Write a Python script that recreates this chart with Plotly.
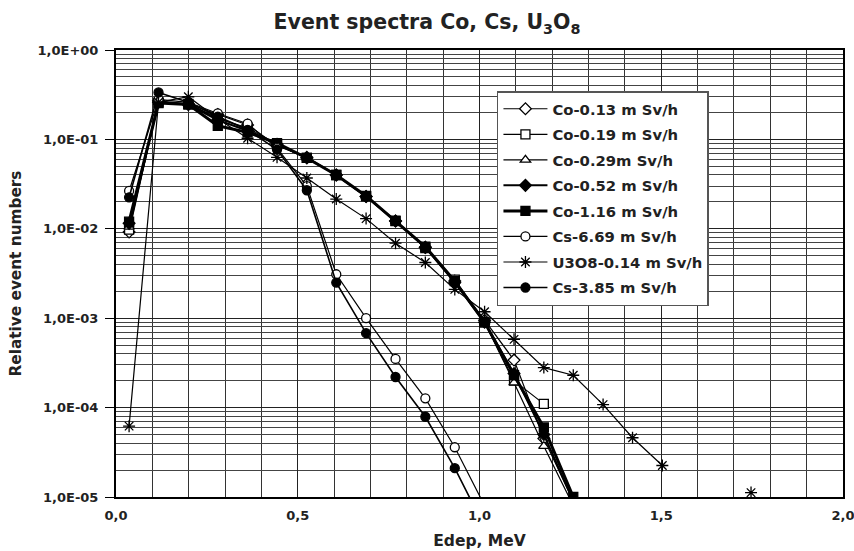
import plotly.graph_objects as go

# Energy bins (MeV)
edep = [0.036, 0.117, 0.199, 0.280, 0.362, 0.443, 0.525, 0.606, 0.688, 0.769,
        0.851, 0.932, 1.014, 1.095, 1.177, 1.258, 1.340, 1.421, 1.503, 1.584, 1.666, 1.747]

co_013 = [0.0092, 0.27, 0.25, 0.19, 0.145, 0.085, 0.063, 0.040, 0.023, 0.0122,
          0.0062, 0.0026, 0.00095, 3.4e-4, 4.5e-5, 9e-6]
co_019 = [0.0098, 0.26, 0.25, 0.17, 0.135, 0.088, 0.062, 0.040, 0.023, 0.0123,
          0.0061, 0.0027, 0.0009, 2.0e-4, 1.1e-4]
co_029 = [0.0105, 0.26, 0.25, 0.175, 0.13, 0.087, 0.062, 0.040, 0.023, 0.0122,
          0.0062, 0.0026, 0.0009, 1.9e-4, 3.7e-5, 8e-6]
co_052 = [0.0115, 0.26, 0.245, 0.165, 0.125, 0.088, 0.062, 0.040, 0.023, 0.0122,
          0.0062, 0.0025, 0.0009, 2.4e-4, 5.0e-5, 9e-6]
co_116 = [0.012, 0.255, 0.245, 0.142, 0.12, 0.091, 0.062, 0.040, 0.0233, 0.0122,
          0.0063, 0.0026, 0.0009, 2.3e-4, 6.0e-5, 1.0e-5]
cs_669 = [0.0265, 0.28, 0.26, 0.195, 0.15, 0.080, 0.030, 0.0031, 0.0010, 3.5e-4,
          1.27e-4, 3.6e-5, 8e-6]
u3o8_014 = [6.2e-5, 0.26, 0.30, 0.17, 0.103, 0.063, 0.037, 0.0215, 0.013, 0.0069,
            0.0042, 0.0021, 0.00118, 5.8e-4, 2.8e-4, 2.3e-4, 1.08e-4, 4.6e-5, 2.25e-5,
            None, None, 1.12e-5]
cs_385 = [0.0225, 0.335, 0.26, 0.18, 0.128, 0.077, 0.027, 0.0025, 6.8e-4, 2.2e-4,
          7.9e-5, 2.1e-5, 4.6e-6]

names = ["Co-0.13 m Sv/h", "Co-0.19 m Sv/h", "Co-0.29m Sv/h", "Co-0.52 m Sv/h",
         "Co-1.16 m Sv/h", "Cs-6.69 m Sv/h", "U3O8-0.14 m Sv/h", "Cs-3.85 m Sv/h"]
series = [co_013, co_019, co_029, co_052, co_116, cs_669, u3o8_014, cs_385]

y_ticks = [1e-5, 1e-4, 1e-3, 1e-2, 1e-1, 1]
y_ticktext = ["1,0E-05", "1,0E-04", "1,0E-03", "1,0E-02", "1,0E-01", "1,0E+00"]
x_ticks = [0.0, 0.5, 1.0, 1.5, 2.0]
x_ticktext = ["0,0", "0,5", "1,0", "1,5", "2,0"]

styles = [
    dict(symbol="diamond", color="white", size=9, lw=1.2),
    dict(symbol="square", color="white", size=9, lw=1.2),
    dict(symbol="triangle-up", color="white", size=9, lw=1.2),
    dict(symbol="diamond", color="black", size=9, lw=2.0),
    dict(symbol="square", color="black", size=9, lw=3.0),
    dict(symbol="circle", color="white", size=9, lw=1.2),
    dict(symbol="asterisk-open", color="black", size=10, lw=1.2),
    dict(symbol="circle", color="black", size=9, lw=1.6),
]

FONT = "DejaVu Sans"
fig = go.Figure()
for name, ys, st in zip(names, series, styles):
    fig.add_trace(go.Scatter(
        x=edep[:len(ys)], y=ys, name=name, mode="lines+markers",
        legendgroup=name,
        line=dict(color="black", width=st["lw"]),
        marker=dict(symbol=st["symbol"], color=st["color"], size=st["size"],
                    line=dict(color="black", width=1.3)),
        connectgaps=False,
    ))

fig.update_layout(
    width=854, height=551,
    margin=dict(l=116, r=11, t=50, b=54, autoexpand=False),
    paper_bgcolor="white", plot_bgcolor="white",
    font=dict(family=FONT, color="black", size=13),
    title=dict(text="Event spectra Co, Cs, U<sub>3</sub>O<sub>8</sub>",
               x=0.5, xanchor="center", y=0.96, yanchor="middle",
               font=dict(family=FONT, size=20.5, weight="bold", color="#222")),
    showlegend=True,
    legend=dict(x=0.524, y=0.908, xanchor="left", yanchor="top",
                bgcolor="white", bordercolor="#555", borderwidth=1.5,
                font=dict(family=FONT, size=14.8, weight="bold", color="#222"),
                traceorder="grouped", tracegroupgap=3.3, itemwidth=44),
)
fig.update_xaxes(
    range=[0, 2.0], tickvals=x_ticks, ticktext=x_ticktext,
    showgrid=True, gridcolor="#222", gridwidth=1,
    minor=dict(dtick=0.1, showgrid=True, gridcolor="#333", gridwidth=1, ticks=""),
    showline=True, linecolor="black", linewidth=2, mirror=True,
    ticks="", zeroline=False, automargin=False, ticklabelstandoff=5,
    ticklabeloverflow="allow",
    tickfont=dict(family=FONT, size=13, weight="bold", color="#222"),
    title=dict(text="Edep, MeV", standoff=14,
               font=dict(family=FONT, size=15.5, weight="bold", color="#222")),
)
fig.update_yaxes(
    type="log", range=[-5, 0], tickvals=y_ticks, ticktext=y_ticktext,
    showgrid=True, gridcolor="#222", gridwidth=1,
    minor=dict(dtick="D1", showgrid=True, gridcolor="#444", gridwidth=1, ticks=""),
    showline=True, linecolor="black", linewidth=2, mirror=True,
    ticks="outside", ticklen=9, tickcolor="black", automargin=False,
    ticklabelstandoff=4, ticklabeloverflow="allow",
    tickfont=dict(family=FONT, size=13, weight="bold", color="#222"),
    title=dict(text="Relative event numbers", standoff=12,
               font=dict(family=FONT, size=15.3, weight="bold", color="#222")),
)

fig.write_html("out.html")
